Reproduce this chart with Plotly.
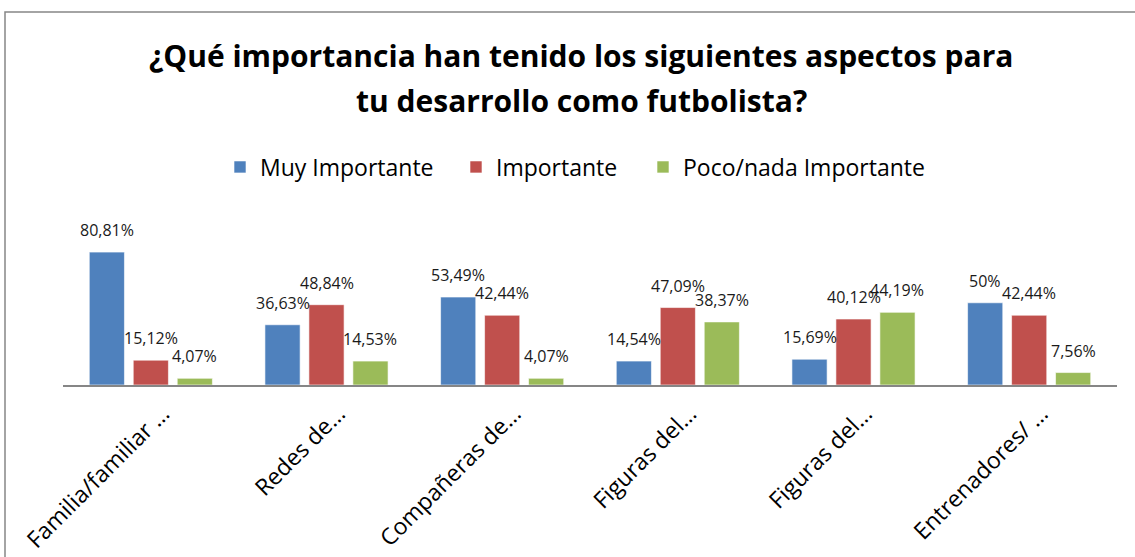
import plotly.graph_objects as go

categories = ["Familia/familiar …", "Redes de…", "Compañeras de…",
              "Figuras del…", "Figuras del…", "Entrenadores/ …"]
series_names = ["Muy Importante", "Importante", "Poco/nada Importante"]
muy_importante = [80.81, 36.63, 53.49, 14.54, 15.69, 50.0]
importante = [15.12, 48.84, 42.44, 47.09, 40.12, 42.44]
poco_nada = [4.07, 14.53, 4.07, 38.37, 44.19, 7.56]
value_labels = [
    ["80,81%", "36,63%", "53,49%", "14,54%", "15,69%", "50%"],
    ["15,12%", "48,84%", "42,44%", "47,09%", "40,12%", "42,44%"],
    ["4,07%", "14,53%", "4,07%", "38,37%", "44,19%", "7,56%"],
]
title_lines = ["¿Qué importancia han tenido los siguientes aspectos para",
               "tu desarrollo como futbolista?"]
colors = ["#4F81BD", "#C0504D", "#9BBB59"]

W, H = 1135, 557
L, R, T, B = 63, 18, 237, 172
plot_w = W - L - R
plot_h = H - T - B


def px_x(p):
    return (p - L) / plot_w


def px_y(p):
    return (T + plot_h - p) / plot_h


xpos = list(range(len(categories)))
series = [muy_importante, importante, poco_nada]
legend_ids = ["legend", "legend2", "legend3"]
legend_left_px = [220, 456, 643]

fig = go.Figure()
for name, vals, col, lg in zip(series_names, series, colors, legend_ids):
    fig.add_trace(go.Bar(
        x=xpos, y=vals, name=name, legend=lg,
        marker=dict(color=col, line=dict(color="rgba(255,255,255,0.6)", width=1)),
    ))

cat_w = plot_w / len(categories)
slot = cat_w * (1 - 0.249) / 3
shifts = [-slot, 0, slot]
for labels, vals, dx in zip(value_labels, series, shifts):
    for xi, v, t in zip(xpos, vals, labels):
        fig.add_annotation(x=xi, y=v, text=t, showarrow=False, xshift=dx, yshift=22,
                           font=dict(family="Open Sans", size=16, color="#1a1a1a"))

# title (two lines, Excel-like line spacing)
for line, ypx in zip(title_lines, [55, 100]):
    fig.add_annotation(xref="paper", yref="paper", x=px_x(581), y=px_y(ypx),
                       xanchor="center", yanchor="middle", showarrow=False, text=line,
                       font=dict(family="Open Sans", size=30, color="black", weight="bold"))

# outer chart frame (cropped on right and bottom)
fig.add_shape(type="rect", xref="paper", yref="paper",
              x0=px_x(5), x1=px_x(W + 6), y0=px_y(H + 6), y1=px_y(12),
              line=dict(color="#868686", width=1.5), layer="below")

legend_common = dict(orientation="h", xanchor="left", yanchor="middle",
                     y=px_y(167), font=dict(family="Open Sans", size=23, color="black"),
                     itemwidth=30, bgcolor="rgba(0,0,0,0)", borderwidth=0)

fig.update_layout(
    width=W, height=H, autosize=False,
    margin=dict(l=L, r=R, t=T, b=B, autoexpand=False),
    paper_bgcolor="white", plot_bgcolor="white",
    barmode="group", bargap=0.249, bargroupgap=0.2,
    showlegend=True,
    legend=dict(x=px_x(legend_left_px[0]), **legend_common),
    legend2=dict(x=px_x(legend_left_px[1]), **legend_common),
    legend3=dict(x=px_x(legend_left_px[2]), **legend_common),
    xaxis=dict(tickvals=xpos, ticktext=categories, tickangle=-45,
               range=[-0.5, len(categories) - 0.5], automargin=False,
               tickfont=dict(family="Open Sans", size=23, color="black"),
               ticklabelshift=12, ticklabelstandoff=4,
               showline=True, linecolor="#868686", linewidth=2,
               ticks="", showgrid=False, zeroline=False),
    yaxis=dict(range=[0, 90], visible=False, showgrid=False, zeroline=False,
               automargin=False),
)

fig.write_html("out.html", config={"displayModeBar": False},
               post_script="document.body.style.margin='0';document.body.style.overflow='hidden';")
